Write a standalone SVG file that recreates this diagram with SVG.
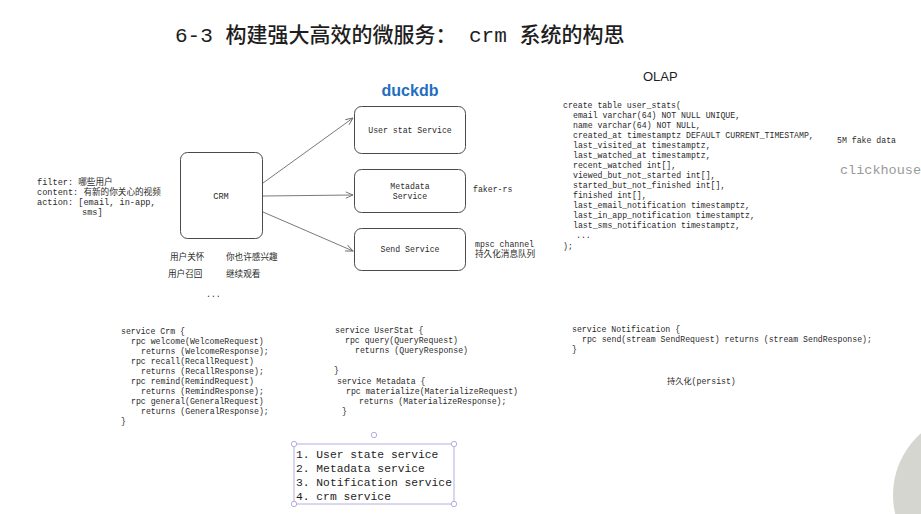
<svg xmlns="http://www.w3.org/2000/svg" width="921" height="514" viewBox="0 0 921 514">
<defs>
<style>
.mono{font-family:"Liberation Mono","DejaVu Sans Mono","Noto Sans CJK SC",monospace;font-size:8.2px;fill:#2a2a2a}
.cjk{font-family:"Liberation Mono","Noto Sans CJK SC",monospace;font-size:8.6px;fill:#2a2a2a}
.box{fill:#ffffff;stroke:#4a4a4a;stroke-width:1}
.conn{stroke:#6a6a6a;stroke-width:0.9;fill:none;marker-end:url(#arr)}
.mid{text-anchor:middle}
.handle{fill:#ffffff;stroke:#b4aede;stroke-width:1}
</style>
<marker id="arr" viewBox="0 0 10 10" refX="9" refY="5" markerWidth="9" markerHeight="9" orient="auto" markerUnits="userSpaceOnUse">
<path d="M1,1.5 L9,5 L1,8.5" fill="none" stroke="#6a6a6a" stroke-width="1"/>
</marker>
</defs>
<rect width="921" height="514" fill="#ffffff"/>

<text x="175" y="42" style="font-family:'Liberation Mono','Noto Sans CJK SC',monospace;font-size:21px;font-weight:500;fill:#1e1e1e">6-3 构建强大高效的微服务： crm 系统的构思</text>

<g id="connectors">
<line class="conn" x1="263" y1="183" x2="353" y2="118"/>
<line class="conn" x1="263" y1="196" x2="353" y2="195"/>
<line class="conn" x1="263" y1="212" x2="353" y2="251"/>
</g>

<g id="crm">
<rect class="box" x="180.5" y="152.5" width="82" height="86" rx="7"/>
<text class="mono mid" x="221" y="199" style="font-size:8.6px">CRM</text>
</g>

<g id="crm-notes">
<text class="cjk" x="37" y="185">filter: 哪些用户</text>
<text class="cjk" x="37" y="195">content: 有新的你关心的视频</text>
<text class="cjk" x="37" y="205">action: [email, in-app,</text>
<text class="cjk" x="82" y="215">sms]</text>
<text class="cjk" x="170" y="260">用户关怀</text>
<text class="cjk" x="226" y="260">你也许感兴趣</text>
<text class="cjk" x="168" y="277">用户召回</text>
<text class="cjk" x="226" y="277">继续观看</text>
<text class="mono" x="206" y="297">...</text>
</g>

<text x="410" y="96" text-anchor="middle" style="font-family:'Liberation Sans',Arial,sans-serif;font-size:16px;font-weight:bold;fill:#1f6fbf">duckdb</text>

<g id="user-stat-service">
<rect class="box" x="354.5" y="106.5" width="111" height="47" rx="7"/>
<text class="mono mid" x="410" y="133">User stat Service</text>
</g>

<g id="metadata-service">
<rect class="box" x="354.5" y="169.5" width="111" height="43" rx="7"/>
<text class="mono mid" x="410" y="189">Metadata</text>
<text class="mono mid" x="410" y="199">Service</text>
</g>

<g id="send-service">
<rect class="box" x="354.5" y="228.5" width="111" height="42" rx="7"/>
<text class="mono mid" x="410" y="252">Send Service</text>
</g>

<g id="service-notes">
<text class="mono" x="473" y="192">faker-rs</text>
<text class="mono" x="475" y="247">mpsc channel</text>
<text class="cjk" x="475" y="257">持久化消息队列</text>
</g>

<text x="643" y="81" style="font-family:'Liberation Sans',Arial,sans-serif;font-size:13px;fill:#1e1e1e">OLAP</text>

<g id="sql">
<text class="mono" x="563" y="108">create table user_stats(</text>
<text class="mono" x="573" y="118">email varchar(64) NOT NULL UNIQUE,</text>
<text class="mono" x="573" y="128">name varchar(64) NOT NULL,</text>
<text class="mono" x="573" y="138">created_at timestamptz DEFAULT CURRENT_TIMESTAMP,</text>
<text class="mono" x="573" y="148">last_visited_at timestamptz,</text>
<text class="mono" x="573" y="158">last_watched_at timestamptz,</text>
<text class="mono" x="573" y="168">recent_watched int[],</text>
<text class="mono" x="573" y="178">viewed_but_not_started int[],</text>
<text class="mono" x="573" y="188">started_but_not_finished int[],</text>
<text class="mono" x="573" y="198">finished int[],</text>
<text class="mono" x="573" y="208">last_email_notification timestamptz,</text>
<text class="mono" x="573" y="218">last_in_app_notification timestamptz,</text>
<text class="mono" x="573" y="228">last_sms_notification timestamptz,</text>
<text class="mono" x="576" y="238">...</text>
<text class="mono" x="563" y="249">);</text>
</g>

<text class="mono" x="837" y="143">5M fake data</text>
<text x="840" y="174" style="font-family:'Liberation Mono','DejaVu Sans Mono',monospace;font-size:13.5px;fill:#9a9a9a">clickhouse</text>

<g id="crm-proto">
<text class="mono" x="121" y="334">service Crm {</text>
<text class="mono" x="131" y="344">rpc welcome(WelcomeRequest)</text>
<text class="mono" x="141" y="354">returns (WelcomeResponse);</text>
<text class="mono" x="131" y="364">rpc recall(RecallRequest)</text>
<text class="mono" x="141" y="374">returns (RecallResponse);</text>
<text class="mono" x="131" y="384">rpc remind(RemindRequest)</text>
<text class="mono" x="141" y="394">returns (RemindResponse);</text>
<text class="mono" x="131" y="404">rpc general(GeneralRequest)</text>
<text class="mono" x="141" y="414">returns (GeneralResponse);</text>
<text class="mono" x="121" y="424">}</text>
</g>

<g id="userstat-proto">
<text class="mono" x="335" y="333">service UserStat {</text>
<text class="mono" x="345" y="343">rpc query(QueryRequest)</text>
<text class="mono" x="355" y="353">returns (QueryResponse)</text>
<text class="mono" x="334" y="373">}</text>
<text class="mono" x="337" y="384">service Metadata {</text>
<text class="mono" x="346" y="394">rpc materialize(MaterializeRequest)</text>
<text class="mono" x="359" y="404">returns (MaterializeResponse);</text>
<text class="mono" x="342" y="414">}</text>
</g>

<g id="notification-proto">
<text class="mono" x="572" y="332">service Notification {</text>
<text class="mono" x="582" y="342">rpc send(stream SendRequest) returns (stream SendResponse);</text>
<text class="mono" x="572" y="352">}</text>
<text class="cjk" x="667" y="384" style="font-size:8.2px">持久化(persist)</text>
</g>

<g id="service-list">
<rect x="294" y="444" width="160" height="60" fill="none" stroke="#b4aede" stroke-width="1"/>
<line x1="374" y1="437.5" x2="374" y2="444" stroke="none"/>
<circle class="handle" cx="294" cy="444" r="2.7"/>
<circle class="handle" cx="454" cy="444" r="2.7"/>
<circle class="handle" cx="294" cy="504" r="2.7"/>
<circle class="handle" cx="454" cy="504" r="2.7"/>
<circle class="handle" cx="374" cy="435" r="2.7"/>
<g style="font-family:'Liberation Mono','DejaVu Sans Mono',monospace;font-size:11.3px;fill:#1e1e1e">
<text x="296" y="458">1. User state service</text>
<text x="296" y="472">2. Metadata service</text>
<text x="296" y="486">3. Notification service</text>
<text x="296" y="500">4. crm service</text>
</g>
</g>

<circle cx="975" cy="495" r="82" fill="#d6d6d0"/>
</svg>
